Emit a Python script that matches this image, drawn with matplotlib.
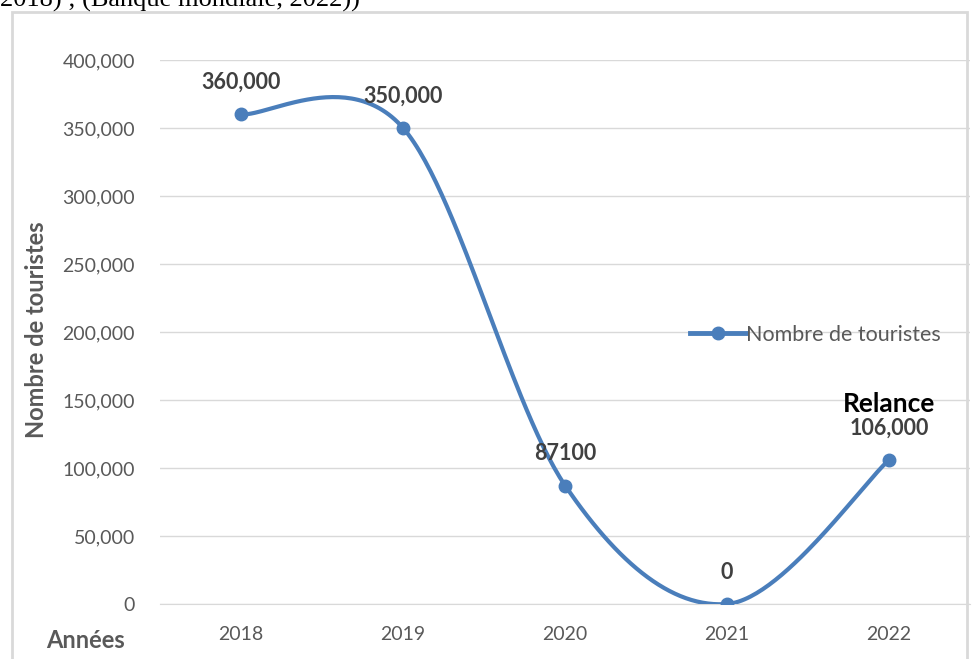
import numpy as np
import matplotlib.pyplot as plt
from matplotlib.patches import Rectangle
from matplotlib.lines import Line2D
from matplotlib.ticker import FuncFormatter

years = ["2018", "2019", "2020", "2021", "2022"]
tourists = [360000, 350000, 87100, 0, 106000]
point_labels = ["360,000", "350,000", "87100", "0", "106,000"]

blue = '#4a7ebb'
grey = '#595959'
plt.rcParams['font.family'] = ['Lato', 'DejaVu Sans']


def smooth(xs, ys, n=60):
    # Excel-like smoothed line: cubic Bezier with Catmull-Rom control points
    xs = np.asarray(xs, float)
    ys = np.asarray(ys, float)
    out_x, out_y = [], []
    m = len(xs)
    for i in range(m - 1):
        p0 = i - 1 if i > 0 else i
        p3 = i + 2 if i + 2 < m else i + 1
        c1x = xs[i] + (xs[i + 1] - xs[p0]) / 6
        c1y = ys[i] + (ys[i + 1] - ys[p0]) / 6
        c2x = xs[i + 1] - (xs[p3] - xs[i]) / 6
        c2y = ys[i + 1] - (ys[p3] - ys[i]) / 6
        t = np.linspace(0, 1, n)
        a, b, c, d = (1 - t) ** 3, 3 * (1 - t) ** 2 * t, 3 * (1 - t) * t ** 2, t ** 3
        out_x.append(a * xs[i] + b * c1x + c * c2x + d * xs[i + 1])
        out_y.append(a * ys[i] + b * c1y + c * c2y + d * ys[i + 1])
    return np.concatenate(out_x), np.concatenate(out_y)


fig = plt.figure(figsize=(9.76, 6.59), dpi=100)
ax = fig.add_axes([0.164, 0.0835, 0.83, 0.8255])

x = np.arange(len(years))
sx, sy = smooth(x, tourists)
ax.plot(sx, sy, color=blue, lw=3, solid_capstyle='round', zorder=3)
ax.plot(x, tourists, 'o', color=blue, ms=9, zorder=4)

for xi, yi, lab in zip(x, tourists, point_labels):
    ax.annotate(lab, (xi, yi), xytext=(0, 23), textcoords='offset points',
                ha='center', va='center', fontsize=15.5, fontweight='bold', color='#404040')
ax.annotate("Relance", (x[-1], tourists[-1]), xytext=(0, 40), textcoords='offset points',
            ha='center', va='center', fontsize=19, fontweight='bold', color='black')

ax.set_xlim(-0.5, len(years) - 0.5)
ax.set_ylim(0, 400000)
ax.set_yticks(np.arange(0, 400001, 50000))
ax.yaxis.set_major_formatter(FuncFormatter(lambda v, p: f"{int(v):,}"))
ax.set_xticks(x)
ax.set_xticklabels(years)
ax.grid(axis='y', color='#d9d9d9', lw=1)
ax.set_axisbelow(True)
for s in ['top', 'right', 'left']:
    ax.spines[s].set_visible(False)
ax.spines['bottom'].set_color('#d9d9d9')
ax.tick_params(length=0, labelsize=14, colors=grey, pad=16)
ax.tick_params(axis='y', pad=18)

fig.text(0.037, 0.5, "Nombre de touristes", rotation=90, ha='center', va='center',
         fontsize=17, fontweight='bold', color=grey)
fig.text(0.088, 0.028, "Années", ha='center', va='center',
         fontsize=17, fontweight='bold', color=grey)

handle = Line2D([], [], color=blue, lw=3.5, marker='o', ms=9)
ax.legend([handle], ["Nombre de touristes"], loc='center left', bbox_to_anchor=(0.63, 0.495),
          frameon=False, fontsize=15.5, labelcolor=grey, handlelength=2.6, handletextpad=0)

fig.patches.append(Rectangle((0.012, -0.05), 0.979, 1.032, transform=fig.transFigure,
                             fill=False, edgecolor='#d9d9d9', lw=2))
fig.text(0.0, 1.0, "2018) ; (Banque mondiale, 2022))", ha='left', va='center',
         fontsize=19, family='Liberation Serif', color='black')

fig.savefig("out.png", dpi=100)
